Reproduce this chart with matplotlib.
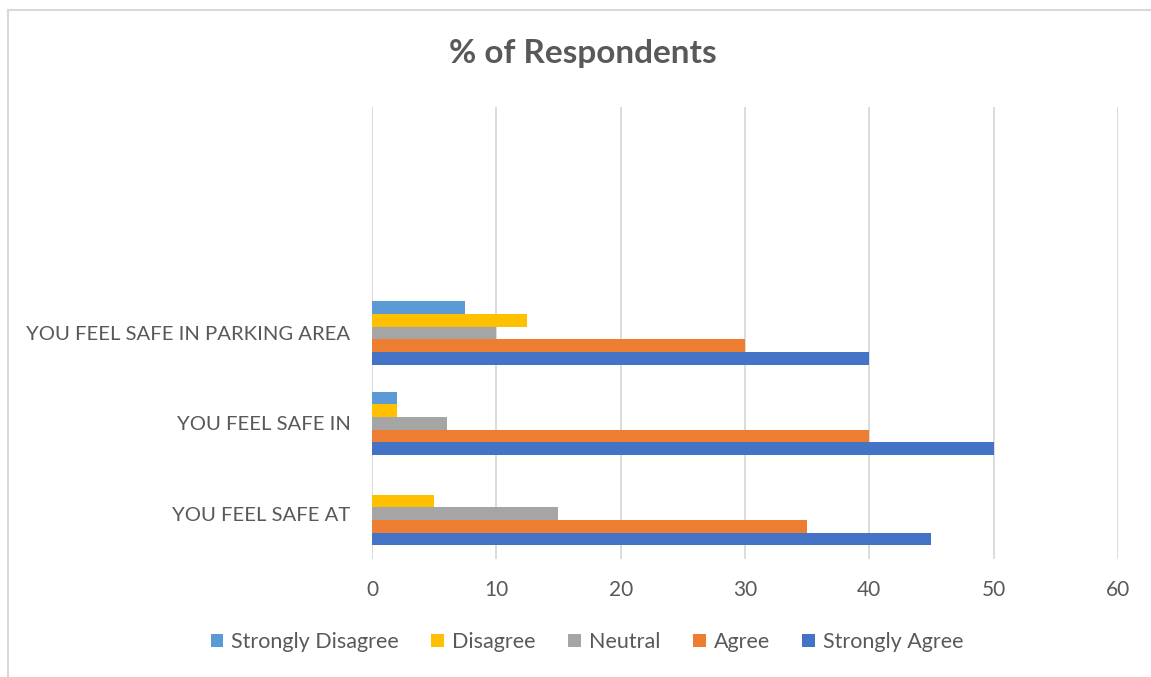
import matplotlib
matplotlib.use("Agg")
import matplotlib.pyplot as plt
from matplotlib.lines import Line2D
from matplotlib.patches import Patch

# Survey statements (bottom to top); the two top slots stay empty
categories = ["YOU FEEL SAFE AT", "YOU FEEL SAFE IN", "YOU FEEL SAFE IN PARKING AREA", "", ""]

# Responses per statement, same order as categories (first three used)
strongly_disagree = [0, 2, 7.5]
disagree = [5, 2, 12.5]
neutral = [15, 6, 10]
agree = [35, 40, 30]
strongly_agree = [45, 50, 40]

series_names = ["Strongly Agree", "Agree", "Neutral", "Disagree", "Strongly Disagree"]
series_values = [strongly_agree, agree, neutral, disagree, strongly_disagree]
series_colors = ["#4472C4", "#ED7D31", "#A5A5A5", "#FFC000", "#5B9BD5"]

x_ticks = [0, 10, 20, 30, 40, 50, 60]

TEXT = "#595959"
GRID = "#D9D9D9"
FONT = "Lato"

fig = plt.figure(figsize=(11.51, 6.77), dpi=100)
ax = fig.add_axes([0.3232, 0.1743, 0.9713 - 0.3232, 0.842 - 0.1743])

bar_h = 0.14
for i, (name, vals, col) in enumerate(zip(series_names, series_values, series_colors)):
    pos = [k + (i - 2) * bar_h for k in range(len(vals))]
    ax.barh(pos, vals, height=bar_h, color=col, label=name, zorder=3)

ax.set_xlim(0, 60)
ax.set_ylim(-0.5, len(categories) - 0.5)
ax.set_xticks(x_ticks)
ax.set_xticklabels([str(t) for t in x_ticks], fontsize=15, color=TEXT, family=FONT)
ax.set_yticks(range(len(categories)))
ax.set_yticklabels(categories, fontsize=14.6, color=TEXT, family=FONT)
ax.tick_params(axis="both", length=0)
ax.tick_params(axis="x", pad=15)
ax.tick_params(axis="y", pad=15.5)
ax.grid(axis="x", color=GRID, linewidth=1.3, zorder=0)
for s in ax.spines.values():
    s.set_visible(False)

fig.text(583 / 1151, 1 - 53 / 677, "% of Respondents", ha="center", va="center",
         fontsize=24, fontweight="bold", color=TEXT, family=FONT)

# Legend in Excel order
handles = [Patch(facecolor=series_colors[i], edgecolor="none", label=series_names[i])
           for i in [4, 3, 2, 1, 0]]
fig.legend(handles=handles, loc="center", bbox_to_anchor=(587 / 1151, 1 - 642 / 677),
           ncol=5, frameon=False, handlelength=0.6, handleheight=0.6, handletextpad=0.37,
           columnspacing=1.5, prop={"family": FONT, "size": 15.5}, labelcolor=TEXT)

# Chart-area border (only top and left edges fall inside the image)
fig.add_artist(Line2D([8 / 1151, 8 / 1151], [0, 1 - 10 / 677], transform=fig.transFigure,
                      color=GRID, linewidth=1.5))
fig.add_artist(Line2D([8 / 1151, 1], [1 - 10 / 677, 1 - 10 / 677], transform=fig.transFigure,
                      color=GRID, linewidth=1.5))

fig.savefig("out.png", dpi=100, facecolor="white")
